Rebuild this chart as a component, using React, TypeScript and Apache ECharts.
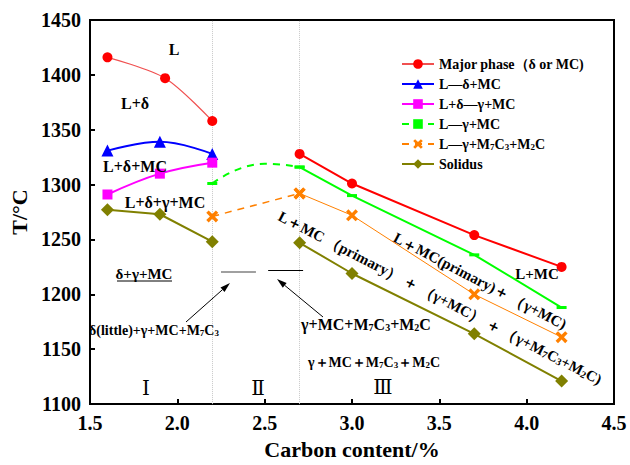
import React, { useEffect, useRef } from "react";
import * as echarts from "echarts";

const FONT = "Liberation Serif, DejaVu Serif, serif";

// Series data: [carbon %, T °C]
const majorA = [[1.6, 1416], [1.93, 1397], [2.2, 1358]];
const majorB = [[2.7, 1328], [3.0, 1301], [3.7, 1254], [4.2, 1225]];
const lDeltaMC = [[1.6, 1331], [1.9, 1339], [2.2, 1328]];
const lDeltaGammaMC = [[1.6, 1291], [1.9, 1310], [2.2, 1320]];
const lGammaMCDashed = [[2.2, 1301], [2.5, 1319], [2.7, 1316]];
const lGammaMC = [[2.7, 1316], [3.0, 1290], [3.7, 1236], [4.2, 1188]];
const lGammaM7Dashed = [[2.2, 1271], [2.7, 1292]];
const lGammaM7 = [[2.7, 1292], [3.0, 1272], [3.7, 1200], [4.2, 1161]];
const solidusA = [[1.6, 1277], [1.9, 1273], [2.2, 1248]];
const solidusB = [[2.7, 1247], [3.0, 1219], [3.7, 1164], [4.2, 1121]];

const regionBounds = [2.2, 2.7];
const xTicks = { min: 1.5, max: 4.5, interval: 0.5 };
const yTicks = { min: 1100, max: 1450, interval: 50 };

const legendNames = [
  "Major phase（δ or MC)",
  "L—δ+MC",
  "L+δ—γ+MC",
  "L—γ+MC",
  "L—γ+M7C3+M2C",
  "Solidus",
];

const CROSS =
  "path://M0,2 L2,0 L5,3 L8,0 L10,2 L7,5 L10,8 L8,10 L5,7 L2,10 L0,8 L3,5 Z";

export default function App() {
  const ref = useRef<HTMLDivElement>(null);
  useEffect(() => {
    if (!ref.current) return;
    const chart = echarts.init(ref.current, undefined, { renderer: "svg" });

    const rich = (size: number, weight: string) => ({
      n: { fontFamily: FONT, fontSize: size, fontWeight: weight, color: "#000" },
      s: {
        fontFamily: FONT,
        fontSize: Math.round(size * 0.65),
        fontWeight: weight,
        color: "#000",
        lineHeight: 8,
        verticalAlign: "bottom",
      },
    });

    const txt = (
      x: number,
      y: number,
      text: string,
      size = 14,
      weight = "bold",
      rotDeg = 0
    ) => ({
      type: "text",
      x,
      y,
      rotation: (-rotDeg * Math.PI) / 180,
      z: 100,
      style: {
        text,
        fill: "#000",
        fontFamily: FONT,
        fontSize: size,
        fontWeight: weight,
        align: "center",
        verticalAlign: "middle",
        textAlign: "center",
        textVerticalAlign: "middle",
        rich: rich(size, weight),
      },
    });

    const arrow = (x1: number, y1: number, x2: number, y2: number) => {
      const ang = Math.atan2(y2 - y1, x2 - x1);
      const L = 10;
      const W = 3;
      const bx = x2 - L * Math.cos(ang);
      const by = y2 - L * Math.sin(ang);
      const px = -Math.sin(ang) * W;
      const py = Math.cos(ang) * W;
      return [
        {
          type: "line",
          z: 100,
          shape: { x1, y1, x2: bx, y2: by },
          style: { stroke: "#000", lineWidth: 1 },
        },
        {
          type: "polygon",
          z: 100,
          shape: {
            points: [
              [x2, y2],
              [bx + px, by + py],
              [bx - px, by - py],
            ],
          },
          style: { fill: "#000" },
        },
      ];
    };

    const base = {
      type: "line",
      symbolKeepAspect: true,
      z: 3,
    };

    chart.setOption({
      animation: false,
      backgroundColor: "#fff",
      grid: {
        left: 84,
        right: 16,
        top: 20,
        bottom: 60,
        show: true,
        borderColor: "#000",
        borderWidth: 2,
      },
      legend: {
        data: legendNames,
        orient: "vertical",
        left: 396,
        top: 52,
        itemWidth: 32,
        itemHeight: 12,
        itemGap: 6,
        textStyle: {
          fontFamily: FONT,
          fontSize: 14,
          fontWeight: "bold",
          color: "#000",
          rich: rich(14, "bold"),
        },
        formatter: (name: string) =>
          name === "L—γ+M7C3+M2C"
            ? "{n|L—γ+M}{s|7}{n|C}{s|3}{n|+M}{s|2}{n|C}"
            : name,
      },
      xAxis: {
        type: "value",
        ...xTicks,
        name: "Carbon content/%",
        nameLocation: "middle",
        nameGap: 30,
        nameTextStyle: { fontFamily: FONT, fontSize: 22, fontWeight: "bold", color: "#000" },
        axisLine: { onZero: false, lineStyle: { color: "#000", width: 2 } },
        axisTick: { inside: true, length: 5, lineStyle: { width: 2 } },
        axisLabel: {
          fontFamily: FONT,
          fontSize: 20,
          fontWeight: "bold",
          color: "#000",
          margin: 9,
          formatter: (v: number) => v.toFixed(1),
        },
        splitLine: { show: false },
      },
      yAxis: {
        type: "value",
        ...yTicks,
        name: "T/°C",
        nameLocation: "middle",
        nameGap: 60,
        nameTextStyle: { fontFamily: FONT, fontSize: 22, fontWeight: "bold", color: "#000" },
        axisLine: { onZero: false, lineStyle: { color: "#000", width: 2 } },
        axisTick: { inside: true, length: 5, lineStyle: { width: 2 } },
        axisLabel: {
          fontFamily: FONT,
          fontSize: 20,
          fontWeight: "bold",
          color: "#000",
          margin: 9,
          formatter: (v: number) => String(v),
        },
        splitLine: { show: false },
      },
      series: [
        {
          ...base,
          name: legendNames[0],
          data: majorA,
          smooth: 0.3,
          symbol: "circle",
          symbolSize: 10,
          itemStyle: { color: "#ff0000" },
          lineStyle: { color: "#f05050", width: 1.2 },
          markLine: {
            silent: true,
            symbol: "none",
            label: { show: false },
            lineStyle: { color: "#c8c8c8", type: "dotted", width: 1 },
            data: regionBounds.map((v) => ({ xAxis: v })),
            z: 1,
          },
        },
        {
          ...base,
          name: legendNames[0],
          data: majorB,
          symbol: "circle",
          symbolSize: 10,
          itemStyle: { color: "#ff0000" },
          lineStyle: { color: "#ff0000", width: 2 },
        },
        {
          ...base,
          name: legendNames[1],
          data: lDeltaMC,
          smooth: 0.4,
          symbol: "triangle",
          symbolSize: 12,
          itemStyle: { color: "#0000ff" },
          lineStyle: { color: "#0000ff", width: 2 },
        },
        {
          ...base,
          name: legendNames[2],
          data: lDeltaGammaMC,
          smooth: 0.4,
          symbol: "rect",
          symbolSize: 10,
          itemStyle: { color: "#ff00ff" },
          lineStyle: { color: "#ff00ff", width: 2 },
        },
        {
          ...base,
          name: legendNames[3],
          data: lGammaMCDashed.map((p, i) =>
            i === 1 ? { value: p, symbol: "none" } : p
          ),
          smooth: true,
          symbol: "rect",
          symbolSize: [10, 3],
          itemStyle: { color: "#00ff00" },
          lineStyle: { color: "#00ff00", width: 2, type: [7, 6] },
        },
        {
          ...base,
          name: legendNames[3],
          data: lGammaMC,
          symbol: "rect",
          symbolSize: [10, 3],
          itemStyle: { color: "#00ff00" },
          lineStyle: { color: "#00ff00", width: 2 },
        },
        {
          ...base,
          name: legendNames[4],
          data: lGammaM7Dashed,
          symbol: CROSS,
          symbolSize: 12,
          itemStyle: { color: "#ff8000" },
          lineStyle: { color: "#ff8000", width: 1.5, type: [7, 6] },
        },
        {
          ...base,
          name: legendNames[4],
          data: lGammaM7,
          symbol: CROSS,
          symbolSize: 12,
          itemStyle: { color: "#ff8000" },
          lineStyle: { color: "#ff8000", width: 1 },
        },
        {
          ...base,
          name: legendNames[5],
          data: solidusA,
          symbol: "diamond",
          symbolSize: 13,
          itemStyle: { color: "#808000" },
          lineStyle: { color: "#808000", width: 2 },
          markLine: {
            silent: true,
            symbol: "none",
            label: { show: false },
            data: [
              [
                { coord: [2.25, 1221], lineStyle: { color: "#808080", width: 1.5, type: "solid" } },
                { coord: [2.45, 1221], lineStyle: { color: "#808080", width: 1.5, type: "solid" } },
              ],
              [
                { coord: [2.52, 1222], lineStyle: { color: "#000", width: 1.2, type: "solid" } },
                { coord: [2.72, 1222], lineStyle: { color: "#000", width: 1.2, type: "solid" } },
              ],
            ],
          },
        },
        {
          ...base,
          name: legendNames[5],
          data: solidusB,
          symbol: "diamond",
          symbolSize: 13,
          itemStyle: { color: "#808000" },
          lineStyle: { color: "#808000", width: 2 },
        },
      ],
      graphic: [
        ...arrow(186, 322, 230, 283),
        ...arrow(323, 317, 277, 279),
        txt(174, 49, "L", 16),
        txt(135, 103, "L+δ", 16),
        txt(135, 166, "L+δ+MC", 16),
        txt(165, 202, "L+δ+γ+MC", 16),
        txt(144, 274, "δ+γ+MC", 15),
        {
          type: "line",
          z: 100,
          shape: { x1: 117, y1: 281, x2: 172, y2: 281 },
          style: { stroke: "#000", lineWidth: 1 },
        },
        txt(154, 330, "{n|δ(little)+γ+MC+M}{s|7}{n|C}{s|3}", 14),
        txt(366, 324, "{n|γ+MC+M}{s|7}{n|C}{s|3}{n|+M}{s|2}{n|C}", 16),
        txt(374, 362, "{n|γ＋MC＋M}{s|7}{n|C}{s|3}{n|＋M}{s|2}{n|C}", 14),
        txt(537, 274, "L+MC", 15),
        txt(146, 388, "Ⅰ", 20, "normal"),
        txt(258, 388, "Ⅱ", 20, "normal"),
        txt(383, 387, "Ⅲ", 20, "normal"),
        txt(
          440,
          298,
          "{n|L＋MC （primary） ＋ （γ+MC） ＋ （γ+M}{s|7}{n|C}{s|3}{n|+M}{s|2}{n|C)}",
          15,
          "bold",
          27.2
        ),
        txt(480, 281, "{n|L＋MC(primary)＋ （γ+MC)}", 15, "bold", 27.5),
      ],
    });
    return () => chart.dispose();
  }, []);
  return (
    <div
      ref={ref}
      style={{ position: "absolute", left: 0, top: 0, width: 630, height: 465 }}
    />
  );
}
